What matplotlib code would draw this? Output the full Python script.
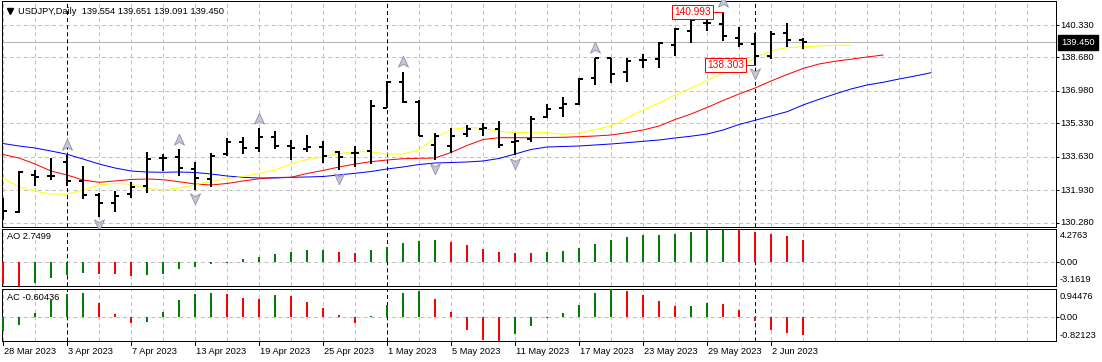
import matplotlib
matplotlib.use('Agg')
import matplotlib.pyplot as plt
import matplotlib.transforms as mtransforms
from matplotlib.path import Path
from matplotlib.lines import Line2D
import numpy as np

plt.rcParams['font.family'] = ['Liberation Sans', 'DejaVu Sans']
plt.rcParams['lines.scale_dashes'] = False

# ---------------- data ----------------
symbol_title = 'USDJPY,Daily  139.554 139.651 139.091 139.450'

opens = [131.281, 130.839, 132.705, 132.654, 133.350, 132.415, 131.688, 131.297, 131.724, 132.146,
         133.584, 133.635, 133.010, 132.502, 133.772, 134.398, 134.093, 134.652, 134.179, 134.011,
         134.113, 133.859, 133.808, 133.910, 136.126, 137.433, 136.431, 134.230, 134.179, 134.789,
         135.043, 135.028, 134.398, 134.535, 135.638, 136.096, 136.299, 137.651, 138.637, 137.956,
         138.536, 138.586, 139.313, 140.025, 140.417, 140.381, 139.685, 139.349, 138.769, 139.908,
         139.554]
highs = [131.551, 132.908, 132.959, 133.584, 133.722, 133.178, 131.805, 131.891, 132.364, 133.889,
         133.772, 134.011, 133.381, 133.808, 134.570, 134.652, 135.079, 134.942, 134.484, 134.738,
         134.449, 133.940, 134.179, 136.517, 137.499, 137.956, 136.517, 134.825, 135.079, 135.247,
         135.333, 135.450, 134.855, 135.719, 136.299, 136.655, 137.651, 138.668, 138.668, 138.637,
         138.841, 139.451, 140.162, 140.635, 140.671, 140.993, 140.244, 139.939, 140.025, 140.417,
         139.651]
lows = [130.417, 130.758, 132.161, 132.451, 132.161, 131.485, 130.585, 130.839, 131.520, 131.805,
        132.924, 132.669, 131.942, 132.110, 133.671, 133.772, 133.889, 134.011, 133.467, 133.889,
        133.330, 132.959, 133.096, 133.264, 136.100, 136.350, 134.687, 133.467, 133.839, 134.621,
        134.687, 134.062, 133.722, 134.367, 135.587, 135.638, 136.248, 137.265, 137.366, 137.448,
        138.159, 138.159, 138.769, 139.400, 140.040, 139.532, 139.227, 138.303, 138.586, 139.227,
        139.091]
closes = [130.875, 132.873, 132.618, 132.654, 132.415, 131.688, 131.297, 131.637, 132.080, 133.518,
          133.584, 133.076, 132.568, 133.686, 134.398, 134.062, 134.652, 134.194, 134.093, 134.144,
          133.671, 133.605, 133.808, 136.228, 137.448, 136.401, 134.700, 134.703, 134.703, 135.043,
          135.109, 134.230, 134.449, 135.536, 136.045, 136.314, 137.600, 138.637, 137.824, 138.515,
          138.536, 139.400, 140.112, 140.584, 140.417, 139.786, 139.349, 138.769, 139.857, 139.568,
          139.450]

# Alligator lines (jaw / teeth / lips), shifted forward past the last bar
jaw = [134.306, 134.179, 134.077, 133.925, 133.757, 133.518, 133.264, 133.061, 132.908, 132.857,
       132.842, 132.857, 132.832, 132.756, 132.654, 132.588, 132.552, 132.552, 132.588, 132.603,
       132.629, 132.705, 132.791, 132.883, 133.010, 133.112, 133.239, 133.315, 133.340, 133.366,
       133.417, 133.544, 133.772, 134.001, 134.128, 134.154, 134.179, 134.230, 134.281, 134.347,
       134.418, 134.484, 134.586, 134.677, 134.789, 134.992, 135.272, 135.486, 135.704, 135.923,
       136.263, 136.553, 136.823, 137.077, 137.280, 137.417, 137.585, 137.738, 137.905]
teeth = [133.747, 133.569, 133.264, 132.908, 132.705, 132.451, 132.334, 132.400, 132.476, 132.502,
         132.466, 132.364, 132.247, 132.197, 132.273, 132.400, 132.512, 132.578, 132.588, 132.781,
         132.934, 133.112, 133.264, 133.381, 133.467, 133.533, 133.554, 133.569, 133.849, 134.205,
         134.510, 134.601, 134.601, 134.601, 134.611, 134.621, 134.652, 134.687, 134.738, 134.855,
         134.992, 135.196, 135.526, 135.806, 136.136, 136.492, 136.823, 137.128, 137.483, 137.814,
         138.119, 138.348, 138.485, 138.592, 138.703, 138.805]
lips = [132.552, 132.095, 131.891, 131.739, 131.724, 131.942, 132.197, 132.273, 132.232, 132.019,
        131.942, 132.044, 132.197, 132.375, 132.527, 132.629, 132.781, 132.959, 133.264, 133.493,
        133.635, 133.788, 133.889, 133.874, 133.772, 133.772, 133.976, 134.586, 135.018, 135.130,
        135.079, 134.916, 134.876, 134.855, 134.855, 134.774, 134.825, 135.008, 135.196, 135.600,
        136.009, 136.365, 136.772, 137.128, 137.509, 137.890, 138.246, 138.653, 139.024, 139.176,
        139.227, 139.263, 139.298, 139.313]

fractal_up = [4, 11, 16, 25, 37, 45]
fractal_down = [6, 12, 21, 27, 32, 47]

ao = [-2.95, -3.1619, -2.75, -2.15, -1.75, -1.50, -1.55, -1.65, -1.90, -1.75,
      -1.62, -1.02, -0.70, -0.37, -0.13, 0.32, 0.60, 0.97, 1.25, 1.45,
      1.47, 1.25, 1.12, 1.45, 1.90, 2.37, 2.70, 2.84, 2.51, 2.14,
      1.58, 1.26, 1.12, 1.10, 1.26, 1.40, 1.72, 2.23, 2.84, 3.12,
      3.40, 3.49, 3.54, 3.77, 4.02, 4.10, 4.05, 3.85, 3.60, 3.25,
      2.7499]
ac = [-0.47, -0.29, 0.11, 0.57, 0.77, 0.79, 0.45, 0.08, -0.21, -0.18,
      0.15, 0.57, 0.77, 0.78, 0.76, 0.64, 0.60, 0.72, 0.68, 0.49,
      0.30, 0.04, -0.20, 0.02, 0.38, 0.79, 0.87, 0.60, 0.15, -0.44,
      -0.80, -0.82123, -0.60, -0.33, -0.05, 0.13, 0.39, 0.81, 0.94476, 0.87,
      0.73, 0.54, 0.35, 0.36, 0.45, 0.43, 0.23, -0.16, -0.44, -0.55,
      -0.60436]

price_ticks = [140.330, 138.680, 136.980, 135.330, 133.630, 131.930, 130.280]
price_tick_labels = ['140.330', '138.680', '136.980', '135.330', '133.630', '131.930', '130.280']
last_price = 139.450
ao_range = (-3.1619, 4.2763)
ac_range = (-0.82123, 0.94476)
ao_labels = ['4.2763', '0.00', '-3.1619']
ac_labels = ['0.94476', '0.00', '-0.82123']

date_label_bars = [0, 4, 8, 12, 16, 20, 24, 28, 32, 36, 40, 44, 48]
date_labels = ['28 Mar 2023', '3 Apr 2023', '7 Apr 2023', '13 Apr 2023', '19 Apr 2023',
               '25 Apr 2023', '1 May 2023', '5 May 2023', '11 May 2023', '17 May 2023',
               '23 May 2023', '29 May 2023', '2 Jun 2023']
month_separators = [4, 24, 47]

# ---------------- layout ----------------
W, H = 1102, 362
fig = plt.figure(figsize=(W / 100, H / 100), dpi=100)
fig.patch.set_facecolor('white')

def px_axes(x0, y0, x1, y1):
    return fig.add_axes([x0 / W, 1 - y1 / H, (x1 - x0) / W, (y1 - y0) / H])

ax = px_axes(1.5, 0.5, 1055.5, 227)
ax_ao = px_axes(1.5, 228.5, 1055.5, 286)
ax_ac = px_axes(1.5, 288.5, 1055.5, 341)

PX = 0.72  # one pixel in points
XMIN, XMAX = -0.094, 65.78
GRID = '#c0c0c0'
DASH = (2.9, 2.2)
FS = 6.7

for a in (ax, ax_ao, ax_ac):
    a.set_xlim(XMIN, XMAX)
    for s in a.spines.values():
        s.set_linewidth(PX)
        s.set_color('black')
    a.set_xticks(range(0, 66, 2))
    a.tick_params(axis='x', length=0, labelbottom=False)
    a.grid(axis='x', color=GRID, lw=PX, dashes=DASH)
    a.set_axisbelow(True)
    for b in month_separators:
        a.axvline(b, color='black', lw=PX, dashes=DASH, zorder=1.5)

# main panel
ax.set_ylim(130.061, 141.576)
ax.set_yticks(price_ticks)
ax.yaxis.tick_right()
ax.tick_params(axis='y', length=3 * PX, width=PX, labelright=False, direction='out')
ax.grid(axis='y', color=GRID, lw=PX, dashes=DASH)
ax.axhline(last_price, color='#b4b4b4', lw=PX, zorder=1.2)

x = np.arange(len(closes))
ax.vlines(x, lows, highs, color='black', lw=2 * PX, zorder=4, antialiased=False)
ax.hlines(opens, x - 0.28, x, color='black', lw=2 * PX, zorder=4, antialiased=False)
ax.hlines(closes, x, x + 0.28, color='black', lw=2 * PX, zorder=4, antialiased=False)

ax.plot(np.arange(len(jaw)), jaw, color='#0000ff', lw=1.0 * PX, zorder=3)
ax.plot(np.arange(len(teeth)), teeth, color='#ff0000', lw=1.0 * PX, zorder=3)
ax.plot(np.arange(len(lips)), lips, color='#ffff00', lw=1.0 * PX, zorder=3)

up_arrow = Path([(0, 1), (0.8, -0.75), (0, -0.3), (-0.8, -0.75), (0, 1)],
                [Path.MOVETO, Path.LINETO, Path.LINETO, Path.LINETO, Path.CLOSEPOLY])
down_arrow = Path([(0, -1), (0.8, 0.75), (0, 0.3), (-0.8, 0.75), (0, -1)],
                  [Path.MOVETO, Path.LINETO, Path.LINETO, Path.LINETO, Path.CLOSEPOLY])
up_tr = mtransforms.offset_copy(ax.transData, fig=fig, x=0, y=7.0, units='points')
dn_tr = mtransforms.offset_copy(ax.transData, fig=fig, x=0, y=-5.6, units='points')
ax.plot(fractal_up, [highs[i] for i in fractal_up], ls='none', marker=up_arrow, ms=9,
        mfc='#c4c7d4', mec='#8e92a3', mew=0.6, transform=up_tr, zorder=5, clip_on=False)
ax.plot(fractal_down, [lows[i] for i in fractal_down], ls='none', marker=down_arrow, ms=9,
        mfc='#c4c7d4', mec='#8e92a3', mew=0.6, transform=dn_tr, zorder=5, clip_on=False)

# high / low price labels
hi_bar = int(np.argmax(highs))
lo_bar = 47
box = dict(boxstyle='square,pad=0.22', fc='white', ec='#ff0000', lw=PX)
ax.plot([hi_bar - 0.63, hi_bar], [highs[hi_bar]] * 2, color='#ff0000', lw=PX, zorder=6)
ax.text(hi_bar - 0.77, highs[hi_bar], f'{highs[hi_bar]:.3f}', ha='right', va='center',
        color='#ff0000', fontsize=FS + 0.6, bbox=box, zorder=7)
ax.plot([lo_bar - 0.56, lo_bar], [lows[lo_bar]] * 2, color='#ff0000', lw=PX, zorder=6)
ax.text(lo_bar - 0.70, lows[lo_bar], f'{lows[lo_bar]:.3f}', ha='right', va='center',
        color='#ff0000', fontsize=FS + 0.6, bbox=box, zorder=7)

# right price scale labels
rt = mtransforms.blended_transform_factory(fig.transFigure, ax.transData)
for v, lab in zip(price_ticks, price_tick_labels):
    ax.text(1060 / W, v, lab, transform=rt, ha='left', va='center', fontsize=FS, clip_on=False)
ax.text(1061 / W, last_price, f'{last_price:.3f}', transform=rt, ha='left', va='center',
        fontsize=FS, color='white', clip_on=False,
        bbox=dict(boxstyle='square,pad=0.32', fc='black', ec='black'))

# header
fig.add_artist(Line2D([9.5 / W], [1 - 10.8 / H], marker='v', ms=4.5, color='black',
                      transform=fig.transFigure))
fig.text(18 / W, 1 - 11 / H, symbol_title, ha='left', va='center', fontsize=FS)

# AO / AC panels
def colors_of(vals, first):
    cols = [first]
    for i in range(1, len(vals)):
        cols.append('#008000' if vals[i] > vals[i - 1] else '#ff0000')
    return cols

ax_ao.set_ylim(*ao_range)
ax_ao.vlines(np.arange(len(ao)), 0, ao, colors=colors_of(ao, '#ff0000'), lw=2 * PX,
             zorder=3, antialiased=False)
ax_ao.axhline(0, color=GRID, lw=PX, dashes=DASH, zorder=1)
ax_ao.set_yticks([0])
ax_ao.yaxis.tick_right()
ax_ao.tick_params(axis='y', length=3 * PX, width=PX, labelright=False)

ax_ac.set_ylim(*ac_range)
ax_ac.vlines(np.arange(len(ac)), 0, ac, colors=colors_of(ac, '#008000'), lw=2 * PX,
             zorder=3, antialiased=False)
ax_ac.axhline(0, color=GRID, lw=PX, dashes=DASH, zorder=1)
ax_ac.set_yticks([0])
ax_ac.yaxis.tick_right()
ax_ac.tick_params(axis='y', length=3 * PX, width=PX, labelright=False)

for lab, ypx in zip(ao_labels, [235, 262.3, 279.3]):
    fig.text(1060 / W, 1 - ypx / H, lab, ha='left', va='center', fontsize=FS)
for lab, ypx in zip(ac_labels, [296.7, 317.3, 335]):
    fig.text(1060 / W, 1 - ypx / H, lab, ha='left', va='center', fontsize=FS)
fig.text(7 / W, 1 - 236.5 / H, f'AO {ao[-1]:.4f}', ha='left', va='center', fontsize=FS)
fig.text(7 / W, 1 - 297.5 / H, f'AC {ac[-1]:.5f}', ha='left', va='center', fontsize=FS)

# date labels
dt = mtransforms.blended_transform_factory(ax_ac.transData, fig.transFigure)
for b, lab in zip(date_label_bars, date_labels):
    ax_ac.text(b + 0.06, 1 - 351 / H, lab, transform=dt, ha='left', va='center',
               fontsize=FS, clip_on=False)
    ax_ac.add_line(Line2D([b, b], [1 - 341 / H, 1 - 345 / H], color='black', lw=PX,
                          transform=dt, clip_on=False))

fig.savefig('out.png', dpi=100, facecolor='white')
